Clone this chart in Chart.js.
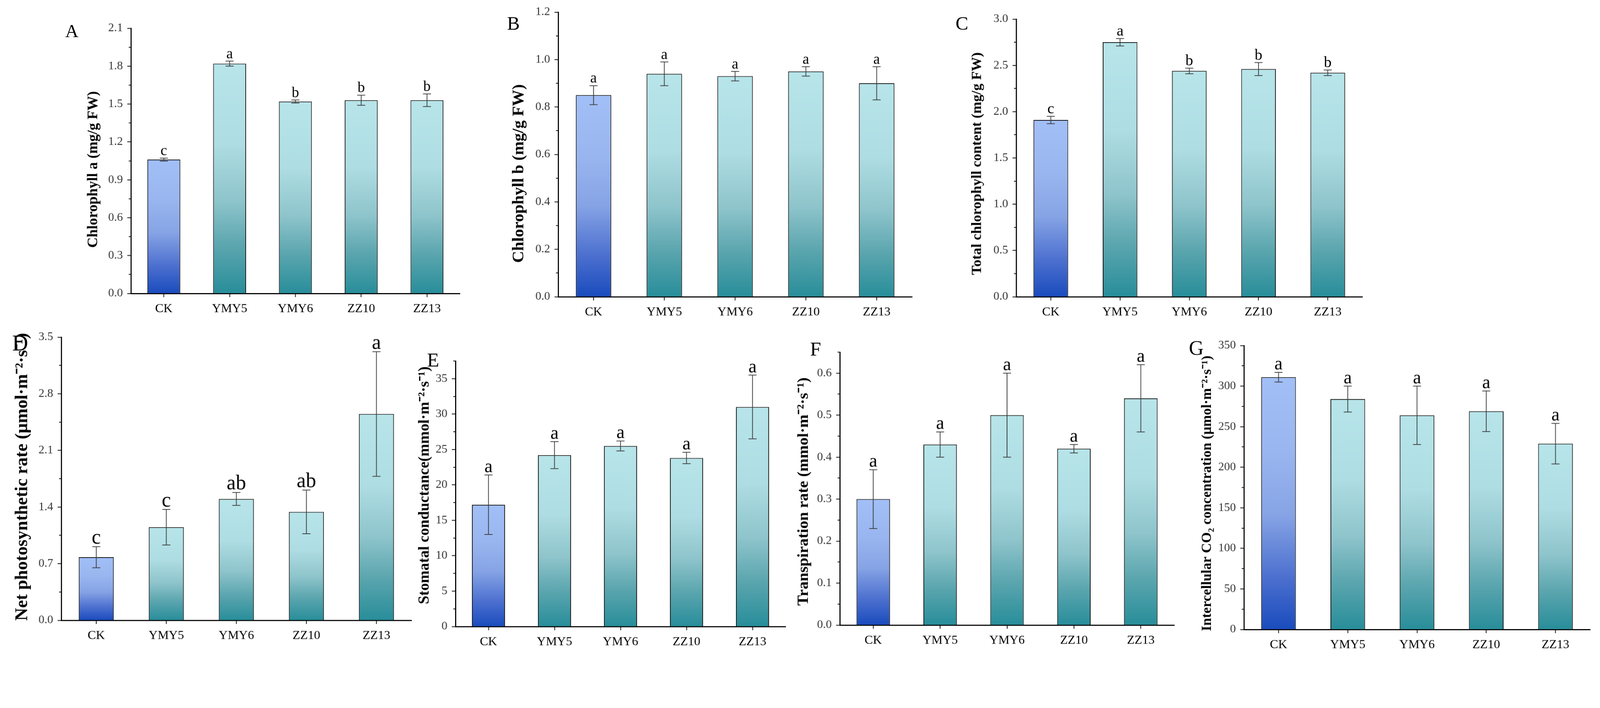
<!DOCTYPE html>
<html>
<head>
<meta charset="utf-8">
<script src="https://cdn.jsdelivr.net/npm/chart.js@4.4.1/dist/chart.umd.min.js"></script>
<style>
  html, body { margin: 0; padding: 0; background: #fff; overflow: hidden; }
  #page { position: relative; width: 4363px; height: 1812px; overflow: hidden; background: #fff; transform-origin: 0 0; }
  #page canvas { position: absolute; }
  .tag { position: absolute; font-family: "Liberation Serif", "Times New Roman", serif; color: #000;
         transform: translate(-50%, -50%); line-height: 1; }
</style>
</head>
<body>
<div id="page"></div>
<script>
// treatments
const groups = ['CK', 'YMY5', 'YMY6', 'ZZ10', 'ZZ13'];

// A - chlorophyll a
const chlA = [1.06, 1.82, 1.52, 1.53, 1.53];
const chlAErr = [0.012, 0.02, 0.012, 0.04, 0.05];
const chlASig = ['c', 'a', 'b', 'b', 'b'];
const chlATicks = [0, 0.3, 0.6, 0.9, 1.2, 1.5, 1.8, 2.1];

// B - chlorophyll b
const chlB = [0.85, 0.94, 0.93, 0.95, 0.90];
const chlBErr = [0.04, 0.05, 0.02, 0.02, 0.07];
const chlBSig = ['a', 'a', 'a', 'a', 'a'];
const chlBTicks = [0, 0.2, 0.4, 0.6, 0.8, 1.0, 1.2];

// C - total chlorophyll
const chlT = [1.91, 2.75, 2.44, 2.46, 2.42];
const chlTErr = [0.04, 0.04, 0.03, 0.07, 0.03];
const chlTSig = ['c', 'a', 'b', 'b', 'b'];
const chlTTicks = [0, 0.5, 1.0, 1.5, 2.0, 2.5, 3.0];

// D - net photosynthetic rate
const pn = [0.78, 1.15, 1.50, 1.34, 2.55];
const pnErr = [0.13, 0.22, 0.08, 0.27, 0.77];
const pnSig = ['c', 'c', 'ab', 'ab', 'a'];
const pnTicks = [0, 0.7, 1.4, 2.1, 2.8, 3.5];

// E - stomatal conductance
const gs = [17.2, 24.2, 25.5, 23.8, 31.0];
const gsErr = [4.2, 1.9, 0.7, 0.8, 4.5];
const gsSig = ['a', 'a', 'a', 'a', 'a'];
const gsTicks = [0, 5, 10, 15, 20, 25, 30, 35];

// F - transpiration rate
const tr = [0.30, 0.43, 0.50, 0.42, 0.54];
const trErr = [0.07, 0.03, 0.10, 0.01, 0.08];
const trSig = ['a', 'a', 'a', 'a', 'a'];
const trTicks = [0, 0.1, 0.2, 0.3, 0.4, 0.5, 0.6];

// G - intercellular CO2
const ci = [311, 284, 264, 269, 229];
const ciErr = [6, 16, 36, 25, 25];
const ciSig = ['a', 'a', 'a', 'a', 'a'];
const ciTicks = [0, 50, 100, 150, 200, 250, 300, 350];

// layout: plot = [left, top, right, bottom]; titleBox = [centre x, centre y, length]
const panels = [
  { tag: 'A', tagPos: [196, 84, 50], values: chlA, err: chlAErr, sig: chlASig, ticks: chlATicks, max: 2.1, minor: 0.15, digits: 1,
    title: 'Chlorophyll a (mg/g FW)', titleBox: [255, 462, 427], plot: [357, 77, 1254, 800], sigSize: 40 },
  { tag: 'B', tagPos: [1400, 64, 52], values: chlB, err: chlBErr, sig: chlBSig, ticks: chlBTicks, max: 1.2, minor: 0.1, digits: 1,
    title: 'Chlorophyll b (mg/g FW)', titleBox: [1415, 473, 487], plot: [1522, 33, 2487, 809], sigSize: 40 },
  { tag: 'C', tagPos: [2623, 64, 52], values: chlT, err: chlTErr, sig: chlTSig, ticks: chlTTicks, max: 3.0, minor: 0.25, digits: 1,
    title: 'Total chlorophyll content (mg/g FW)', titleBox: [2665, 446, 608], plot: [2771, 52, 3715, 809], sigSize: 42 },
  { tag: 'D', tagPos: [55, 936, 60], values: pn, err: pnErr, sig: pnSig, ticks: pnTicks, max: 3.5, minor: 0.35, digits: 1,
    title: 'Net photosynthetic rate (μmol·m⁻²·s⁻¹)', titleBox: [62, 1300, 787], plot: [167, 919, 1122, 1691], sigSize: 56 },
  { tag: 'E', tagPos: [1181, 981, 54], values: gs, err: gsErr, sig: gsSig, ticks: gsTicks, max: 37.5, minor: 2.5, digits: 0,
    title: 'Stomatal conductance(mmol·m⁻²·s⁻¹)', titleBox: [1158, 1323, 649], plot: [1242, 984, 2142, 1708], sigSize: 50 },
  { tag: 'F', tagPos: [2224, 951, 54], values: tr, err: trErr, sig: trSig, ticks: trTicks, max: 0.65, minor: 0.05, digits: 1,
    title: 'Transpiration rate (mmol·m⁻²·s⁻¹)', titleBox: [2192, 1340, 622], plot: [2290, 960, 3202, 1704], sigSize: 50 },
  { tag: 'G', tagPos: [3262, 948, 56], values: ci, err: ciErr, sig: ciSig, ticks: ciTicks, max: 350, minor: 25, digits: 0,
    title: 'Intercellular CO₂ concentration (μmol·m⁻²·s⁻¹)', titleBox: [3292, 1345, 751], plot: [3392, 942, 4336, 1716], sigSize: 50 }
];

const ckStops = [[0, '#A2BFF7'], [0.3, '#9AB6F0'], [0.55, '#86A3E5'], [0.8, '#4B6FCF'], [1, '#1A4CBD']];
const teStops = [[0, '#B7E5EA'], [0.35, '#AEDDE3'], [0.6, '#8EC4CB'], [0.8, '#5AA5AE'], [1, '#288E9A']];

const serif = '"Liberation Serif", "Times New Roman", serif';
Chart.defaults.font.family = serif;
Chart.defaults.color = '#000';

const page = document.getElementById('page');
// fit the 4363x1812 figure into whatever viewport we actually get
const fit = Math.min(window.innerWidth / 4363, window.innerHeight / 1812);
page.style.transform = 'scale(' + fit + ')';

function barFill(ctx) {
  const chart = ctx.chart;
  if (!chart.chartArea || ctx.type !== 'data') return '#B7E5EA';
  const y = chart.scales.y;
  const top = y.getPixelForValue(ctx.raw);
  const base = y.getPixelForValue(0);
  const g = chart.ctx.createLinearGradient(0, top, 0, base);
  (ctx.dataIndex === 0 ? ckStops : teStops).forEach(([o, c]) => g.addColorStop(o, c));
  return g;
}

panels.forEach(p => {
  const padTop = 60, padRight = 20, xH = 80;
  const left = p.titleBox[0] - 45;
  const top = p.plot[1] - padTop;
  const width = p.plot[2] + padRight - left;
  const height = p.plot[3] + xH - top;

  const canvas = document.createElement('canvas');
  canvas.width = width;
  canvas.height = height;
  canvas.style.left = left + 'px';
  canvas.style.top = top + 'px';
  canvas.style.width = width + 'px';
  canvas.style.height = height + 'px';
  page.appendChild(canvas);

  const extras = {
    id: 'extras' + p.tag,
    afterDatasetsDraw(chart) {
      const ctx = chart.ctx;
      const y = chart.scales.y;
      const meta = chart.getDatasetMeta(0);
      ctx.save();
      ctx.strokeStyle = '#3a3a3a';
      ctx.lineWidth = 2;
      ctx.fillStyle = '#000';
      ctx.font = p.sigSize + 'px ' + serif;
      ctx.textAlign = 'center';
      ctx.textBaseline = 'alphabetic';
      meta.data.forEach((bar, i) => {
        const hi = y.getPixelForValue(p.values[i] + p.err[i]);
        const lo = y.getPixelForValue(p.values[i] - p.err[i]);
        ctx.beginPath();
        ctx.moveTo(bar.x, hi); ctx.lineTo(bar.x, lo);
        ctx.moveTo(bar.x - 11, hi); ctx.lineTo(bar.x + 11, hi);
        ctx.moveTo(bar.x - 11, lo); ctx.lineTo(bar.x + 11, lo);
        ctx.stroke();
        ctx.fillText(p.sig[i], bar.x, hi - 8);
      });
      // minor ticks on the y axis
      const ax = chart.chartArea.left;
      ctx.strokeStyle = '#000';
      ctx.lineWidth = 2;
      for (let k = 1; k * p.minor <= p.max + 1e-9; k += 2) {
        const py = Math.round(y.getPixelForValue(k * p.minor));
        ctx.beginPath();
        ctx.moveTo(ax - 6, py); ctx.lineTo(ax, py);
        ctx.stroke();
      }
      // y axis title, sized to the length it has in the figure
      ctx.font = 'bold 40px ' + serif;
      const size = 40 * p.titleBox[2] / ctx.measureText(p.title).width;
      ctx.font = 'bold ' + size.toFixed(1) + 'px ' + serif;
      ctx.translate(p.titleBox[0] - left, p.titleBox[1] - top);
      ctx.rotate(-Math.PI / 2);
      ctx.textAlign = 'center';
      ctx.textBaseline = 'middle';
      ctx.fillText(p.title, 0, 0);
      ctx.restore();
    }
  };

  new Chart(canvas.getContext('2d'), {
    type: 'bar',
    data: {
      labels: groups,
      datasets: [{
        data: p.values,
        backgroundColor: barFill,
        borderColor: '#111',
        borderWidth: 2,
        categoryPercentage: 1,
        barPercentage: 0.5
      }]
    },
    options: {
      responsive: false,
      devicePixelRatio: 1,
      animation: false,
      layout: { padding: { left: 0, top: padTop, right: padRight, bottom: 0 } },
      plugins: { legend: { display: false }, tooltip: { enabled: false } },
      scales: {
        x: {
          grid: { display: true, drawOnChartArea: false, drawTicks: true, tickLength: 10, tickColor: '#000', tickWidth: 2, offset: false },
          border: { display: true, color: '#000', width: 3 },
          ticks: { font: { size: 34 }, color: '#000', padding: 12, maxRotation: 0 },
          afterFit: s => { s.height = xH; }
        },
        y: {
          min: 0,
          max: p.max,
          afterBuildTicks: s => { s.ticks = p.ticks.map(v => ({ value: v })); },
          grid: { display: true, drawOnChartArea: false, drawTicks: true, tickLength: 10, tickColor: '#000', tickWidth: 2 },
          border: { display: true, color: '#000', width: 3 },
          ticks: { font: { size: 32 }, color: '#333', padding: 12, callback: v => Number(v).toFixed(p.digits) },
          afterFit: s => { s.width = p.plot[0] - left; }
        }
      }
    },
    plugins: [extras]
  });

  const tag = document.createElement('div');
  tag.className = 'tag';
  tag.textContent = p.tag;
  tag.style.left = p.tagPos[0] + 'px';
  tag.style.top = p.tagPos[1] + 'px';
  tag.style.fontSize = p.tagPos[2] + 'px';
  page.appendChild(tag);
});
</script>
</body>
</html>
